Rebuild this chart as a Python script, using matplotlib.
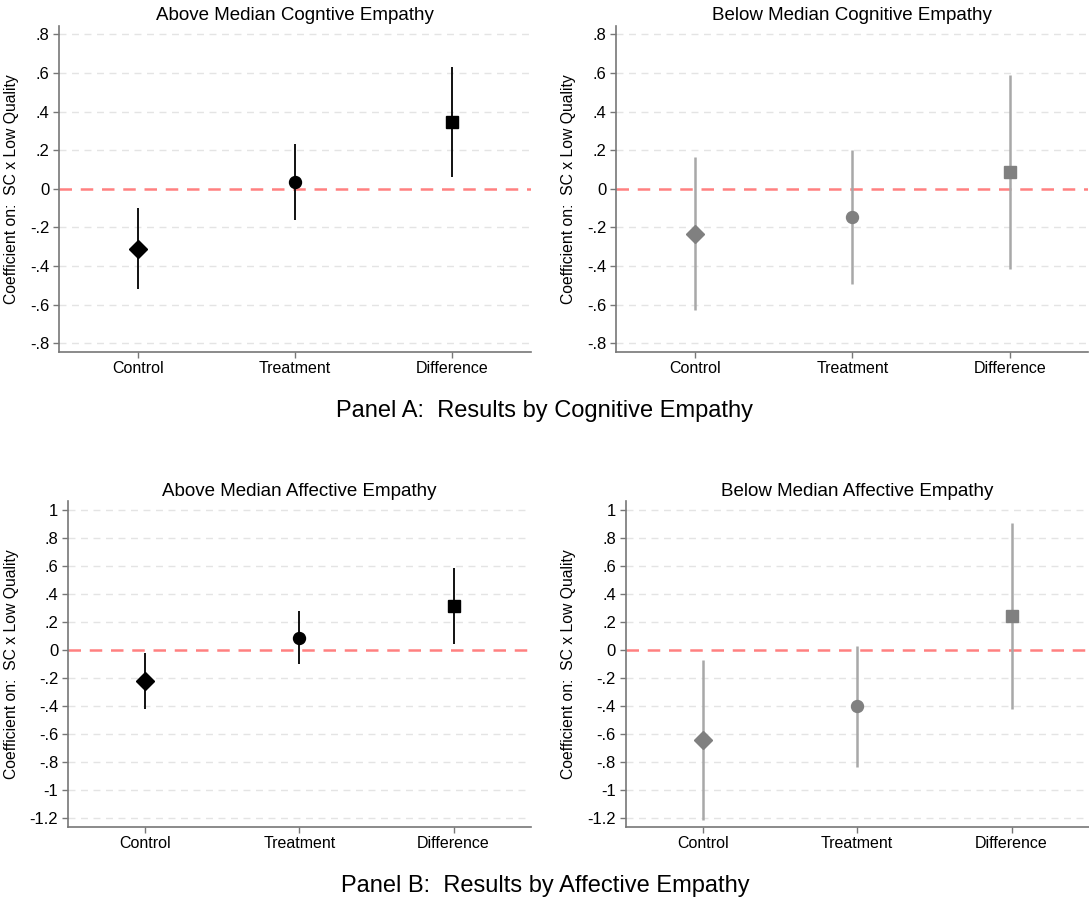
import numpy as np
import matplotlib
matplotlib.use("Agg")
import matplotlib.pyplot as plt
from matplotlib.transforms import blended_transform_factory

plt.rcParams['font.family'] = ['Liberation Sans', 'DejaVu Sans']

groups = ["Control", "Treatment", "Difference"]
markers = ["D", "o", "s"]
marker_sizes = [9.6, 8.6, 8.8]

# coefficient estimates with 95% CI bounds
cog_above_est = [-0.311, 0.036, 0.346]
cog_above_lo = [-0.518, -0.160, 0.064]
cog_above_hi = [-0.100, 0.235, 0.632]

cog_below_est = [-0.235, -0.147, 0.087]
cog_below_lo = [-0.629, -0.495, -0.415]
cog_below_hi = [0.163, 0.202, 0.589]

aff_above_est = [-0.224, 0.088, 0.312]
aff_above_lo = [-0.422, -0.103, 0.040]
aff_above_hi = [-0.024, 0.276, 0.583]

aff_below_est = [-0.645, -0.403, 0.239]
aff_below_lo = [-1.213, -0.834, -0.424]
aff_below_hi = [-0.075, 0.031, 0.910]

cog_ticks = [-0.8, -0.6, -0.4, -0.2, 0, 0.2, 0.4, 0.6, 0.8]
aff_ticks = [-1.2, -1, -0.8, -0.6, -0.4, -0.2, 0, 0.2, 0.4, 0.6, 0.8, 1]

W, H = 1089, 901


def stata_label(v):
    if abs(v) < 1e-9:
        return "0"
    s = f"{v:g}"
    s = s.replace("0.", ".")
    return s


def px_axes(fig, x0, x1, y_top, y_bot):
    return fig.add_axes([x0 / W, 1 - y_bot / H, (x1 - x0) / W, (y_bot - y_top) / H])


def coef_panel(ax, title, est, lo, hi, ticks, ylim, mcolor, lcolor, lw, label_x):
    x = np.arange(1, len(groups) + 1)
    for t in ticks:
        if abs(t) < 1e-9:
            continue
        ax.axhline(t, color="#e4e4e4", lw=1.0, ls=(0, (5, 4)), zorder=0)
    ax.axhline(0, color="#ff8080", lw=1.8, ls=(0, (5, 3.5)), zorder=1)
    for i in range(len(groups)):
        ax.plot([x[i], x[i]], [lo[i], hi[i]], color=lcolor, lw=lw, zorder=2,
                solid_capstyle="butt")
        ax.plot(x[i], est[i], marker=markers[i], ms=marker_sizes[i],
                color=mcolor, mec=mcolor, ls="none", zorder=3)
    ax.set_xlim(0.5, 3.5)
    ax.set_ylim(*ylim)
    ax.set_xticks(x)
    ax.set_xticklabels(groups, fontsize=11.5)
    ax.set_yticks(ticks)
    ax.set_yticklabels([stata_label(t) for t in ticks], fontsize=12)
    ax.tick_params(axis="both", direction="out", length=4, width=1.0,
                   color="#777777", pad=3)
    ax.tick_params(axis="x", pad=3)
    for side in ["top", "right"]:
        ax.spines[side].set_visible(False)
    for side in ["left", "bottom"]:
        ax.spines[side].set_color("#777777")
        ax.spines[side].set_linewidth(1.2)
    ax.set_ylabel("Coefficient on:  SC x Low Quality", fontsize=11.3)
    # place the y label at a fixed figure x position
    trans = blended_transform_factory(fig.transFigure, ax.transAxes)
    ax.yaxis.set_label_coords(label_x / W, 0.5, transform=trans)
    ax.yaxis.label.set_va("center")
    ax.set_title(title, fontsize=13.5, pad=4)


fig = plt.figure(figsize=(W / 100, H / 100), dpi=100)
fig.patch.set_facecolor("white")

cog_lim = (-0.844, 0.844)
aff_lim = (-1.264, 1.062)

ax1 = px_axes(fig, 59.3, 530.7, 26, 351.7)
coef_panel(ax1, "Above Median Cogntive Empathy", cog_above_est, cog_above_lo,
           cog_above_hi, cog_ticks, cog_lim, "black", "#111111", 1.4, 12)

ax2 = px_axes(fig, 616.3, 1088.4, 26, 351.7)
coef_panel(ax2, "Below Median Cognitive Empathy", cog_below_est, cog_below_lo,
           cog_below_hi, cog_ticks, cog_lim, "#808080", "#a8a8a8", 1.8, 569)

ax3 = px_axes(fig, 68, 530.7, 501.3, 826.7)
coef_panel(ax3, "Above Median Affective Empathy", aff_above_est, aff_above_lo,
           aff_above_hi, aff_ticks, aff_lim, "black", "#111111", 1.4, 12)

ax4 = px_axes(fig, 625.7, 1088.7, 501.3, 826.7)
coef_panel(ax4, "Below Median Affective Empathy", aff_below_est, aff_below_lo,
           aff_below_hi, aff_ticks, aff_lim, "#808080", "#a8a8a8", 1.8, 569)

fig.text(545 / W, 1 - 411 / H, "Panel A:  Results by Cognitive Empathy",
         ha="center", va="center", fontsize=17)
fig.text(545 / W, 1 - 886 / H, "Panel B:  Results by Affective Empathy",
         ha="center", va="center", fontsize=17)

fig.savefig("out.png", dpi=100)
